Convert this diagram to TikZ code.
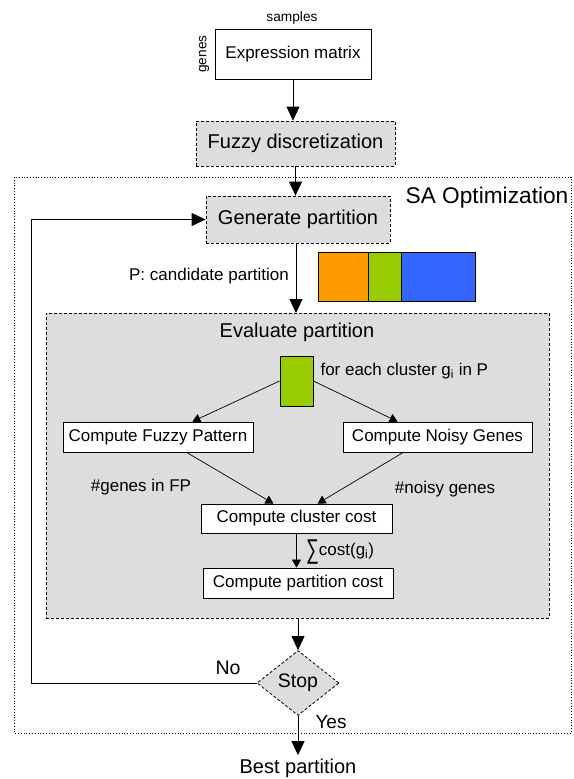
\documentclass[tikz,border=0pt]{standalone}
\usepackage{fontspec}
\setmainfont{Liberation Sans}
\usetikzlibrary{arrows.meta,positioning,calc,shapes.geometric}
\definecolor{boxgray}{HTML}{DDDDDD}
\definecolor{porange}{HTML}{FF9900}
\definecolor{pgreen}{HTML}{99CC00}
\definecolor{pblue}{HTML}{3366FF}
\newcommand{\fs}[1]{\fontsize{#1}{#1}\selectfont}

\begin{document}
\begin{tikzpicture}[x=1pt,y=-1pt,
    plainbox/.style={draw,line width=0.8pt,fill=white,inner sep=0pt,font=\fs{17}},
    dashbox/.style={draw,line width=0.8pt,fill=boxgray,dash pattern=on 3pt off 2pt,inner sep=0pt,font=\fs{20}},
    bigarr/.style={line width=0.8pt,-{Triangle[width=13pt,length=14pt]}},
    smallarr/.style={line width=0.7pt,-{Triangle[width=9pt,length=8pt]}}]
  \useasboundingbox (0,0) rectangle (573,779);
  \draw[dotted,line width=0.8pt] (14,177) rectangle (571,733);
  \node[dashbox,minimum width=503pt,minimum height=305pt] (eval) at (297.5,465.5) {};
  \node[font=\fs{20}] (evaltitle) at (297,332) {Evaluate partition};
  \node[font=\fs{13.7}] (samples) at (292,18) {samples};
  \node[font=\fs{13.7},rotate=90] (genes) at (204,54) {genes};
  \node[plainbox,minimum width=156pt,minimum height=50pt] (expr) at (293,54) {Expression matrix};
  \node[dashbox,minimum width=199pt,minimum height=45pt] (fuzzy) at (295.5,143.5) {Fuzzy discretization};
  \node[font=\fs{22.7}] (sa) at (487,198) {SA Optimization};
  \node[dashbox,minimum width=184pt,minimum height=47pt] (gen) at (298,219.5) {Generate partition};
  \node[font=\fs{17}] (cand) at (209,276) {P: candidate partition};
  \draw[line width=0.8pt,fill=porange] (318,252) rectangle (368,301);
  \draw[line width=0.8pt,fill=pgreen] (368,252) rectangle (401,301);
  \draw[line width=0.8pt,fill=pblue] (401,252) rectangle (475,301);
  \node[draw,line width=0.8pt,fill=pgreen,minimum width=33pt,minimum height=50pt,inner sep=0pt] (grn) at (296.5,381) {};
  \node[font=\fs{17},anchor=west] (each) at (317,371) {for each cluster g\textsubscript{i} in P};
  \node[plainbox,minimum width=190pt,minimum height=30pt] (cfp) at (158,437) {Compute Fuzzy Pattern};
  \node[plainbox,minimum width=189pt,minimum height=30pt] (cng) at (437.5,437) {Compute Noisy Genes};
  \node[font=\fs{17}] (nfp) at (141,487) {\#genes in FP};
  \node[font=\fs{17}] (nng) at (445,489) {\#noisy genes};
  \node[plainbox,minimum width=191pt,minimum height=29pt] (ccc) at (296.5,518.5) {Compute cluster cost};
  \node[font=\fs{17},anchor=west,inner sep=2pt] (sum) at (304,552) {\raisebox{-3pt}{\scalebox{1.05}[1.6]{∑}}cost(g\textsubscript{i})};
  \node[plainbox,minimum width=190pt,minimum height=30pt] (cpc) at (298,583) {Compute partition cost};
  \node[draw,line width=0.8pt,fill=boxgray,dash pattern=on 3pt off 2pt,diamond,aspect=1.26,
        minimum width=82pt,minimum height=65pt,inner sep=0pt,font=\fs{19.5}] (stop) at (298,683) {Stop};
  \node[font=\fs{19.5}] (no) at (228,668) {No};
  \node[font=\fs{19}] (yes) at (331,722) {Yes};
  \node[font=\fs{20}] (best) at (298,768) {Best partition};
  \coordinate (loopbot) at (31,683);
  \coordinate (looptop) at (31,219.5);
  \draw[bigarr] (expr.south) -- (expr.south |- fuzzy.north);
  \draw[bigarr] (fuzzy.south) -- (fuzzy.south |- gen.north);
  \draw[bigarr] (296,243) -- (296,313);
  \draw[smallarr] (grn.west) -- ($(cfp.north west)!0.68!(cfp.north east)$);
  \draw[smallarr] (grn.east) -- ($(cng.north west)!0.29!(cng.north east)$);
  \draw[smallarr] ($(cfp.south west)!0.65!(cfp.south east)$) -- ($(ccc.north west)!0.38!(ccc.north east)$);
  \draw[smallarr] ($(cng.south west)!0.32!(cng.south east)$) -- ($(ccc.north west)!0.61!(ccc.north east)$);
  \draw[smallarr] (ccc.south) -- (ccc.south |- cpc.north);
  \draw[bigarr] (eval.south -| stop.north) -- (stop.north);
  \draw[bigarr] (stop.west) -- (loopbot) -- (looptop) -- (gen.west);
  \draw[bigarr] (stop.south) -- (stop.south |- best.north);
\end{tikzpicture}
\end{document}
